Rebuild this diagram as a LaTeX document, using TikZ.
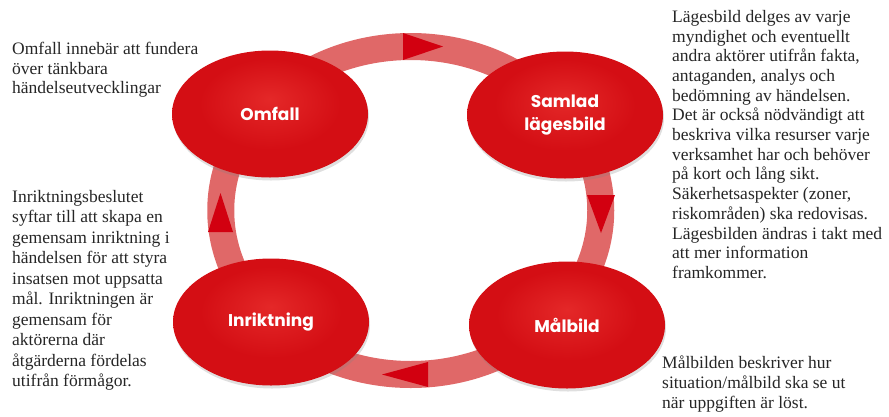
\documentclass[tikz,border=0pt]{standalone}
\usepackage{fontspec}
\setmainfont{Liberation Serif}
\newfontfamily\gothic{Poppins}
\usetikzlibrary{shapes.geometric,shadows}
\definecolor{ringred}{RGB}{224,104,104}
\definecolor{tipred}{RGB}{210,0,16}
\definecolor{ballred}{RGB}{212,14,20}
\definecolor{rimred}{RGB}{160,0,8}
\definecolor{glossred}{RGB}{228,40,40}
\pgfdeclareradialshading{redball}{\pgfpoint{0bp}{6bp}}{color(0bp)=(glossred); color(18bp)=(ballred); color(40bp)=(ballred); color(50bp)=(rimred)}

\begin{document}
\begin{tikzpicture}[x=1pt,y=1pt]
		\tikzstyle{every node}+=[inner sep=0pt]
		\tikzstyle{stage}=[ellipse, minimum width=196pt, minimum height=127pt, shade, shading=redball, drop shadow={opacity=0.25, shadow xshift=1pt, shadow yshift=-3pt}, text=white, align=center, font=\gothic\bfseries\fontsize{17}{23}\selectfont]
		\tikzstyle{note}=[anchor=north west, align=left, text=black!85, font=\fontsize{17.5}{19.7}\selectfont]
		\useasboundingbox (0,0) rectangle (889,-416);
		% the cycle
		\draw [ringred, line width=27pt] (410.75,-210.5) ellipse [x radius=190, y radius=164];
		\fill [tipred] (403,-33) -- (443,-46.5) -- (403,-60) -- cycle;
		\fill [tipred] (587,-195) -- (601,-233) -- (615,-195) -- cycle;
		\fill [tipred] (428,-362) -- (382,-374.5) -- (428,-387) -- cycle;
		\fill [tipred] (208,-232) -- (220.5,-193) -- (233,-232) -- cycle;
		% stages
		\node [stage] (omfall) at (270,-114) {Omfall};
		\node [stage] (samlad) at (565,-115) {Samlad\\lägesbild};
		\node [stage] (malbild) at (567,-325) {Målbild};
		\node [stage] (inriktning) at (271,-322) {Inriktning};
		% descriptions
		\node [note] (omfalltext) at (12,-42) {Omfall innebär att fundera\\över tänkbara\\händelseutvecklingar};
		\node [note] (samladtext) at (672,-10) {Lägesbild delges av varje\\myndighet och eventuellt\\andra aktörer utifrån fakta,\\antaganden, analys och\\bedömning av händelsen.\\Det är också nödvändigt att\\beskriva vilka resurser varje\\verksamhet har och behöver\\på kort och lång sikt.\\Säkerhetsaspekter (zoner,\\riskområden) ska redovisas.\\Lägesbilden ändras i takt med\\att mer information\\framkommer.};
		\node [note, font=\fontsize{17.5}{20.5}\selectfont] (inriktningtext) at (12,-190) {Inriktningsbeslutet\\syftar till att skapa en\\gemensam inriktning i\\händelsen för att styra\\insatsen mot uppsatta\\mål. Inriktningen är\\gemensam för\\aktörerna där\\åtgärderna fördelas\\utifrån förmågor.};
		\node [note] (malbildtext) at (662,-356) {Målbilden beskriver hur\\situation/målbild ska se ut\\när uppgiften är löst.};
\end{tikzpicture}
\end{document}
